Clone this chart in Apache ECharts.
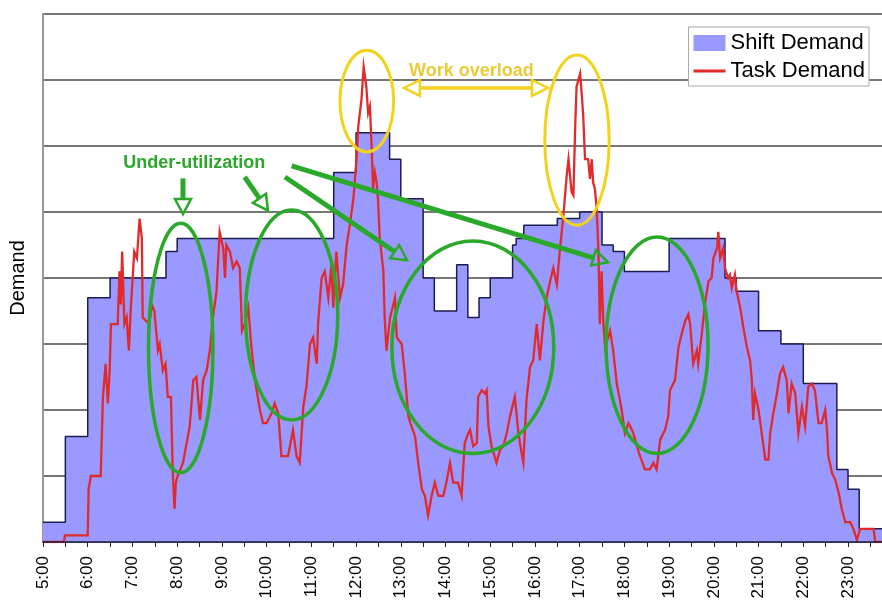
<!DOCTYPE html>
<html>
<head>
    <meta charset="utf-8" />
    <title>Shift Demand vs Task Demand</title>
    <script src="https://cdn.jsdelivr.net/npm/echarts@6.0.0/dist/echarts.min.js"></script>
    <style>
        html, body { margin: 0; padding: 0; background: #fff; }
    </style>
    <script>
        // time of day in hours (13.5 = 13:30)
        let shiftTime = [5, 5.5, 6, 6.5, 7.75, 8, 11.5, 12, 12.75, 13, 13.5, 13.75,
            14.25, 14.5, 14.75, 15, 15.5, 15.58, 15.75, 16.5, 17, 17.5, 17.75, 18,
            19, 20.25, 20.5, 21, 21.5, 22, 22.75, 23, 23.25, 23.76];
        let shiftValue = [0.3, 1.6, 3.7, 4.0, 4.4, 4.6, 5.6, 6.2, 5.8, 5.2, 4.0, 3.5,
            4.2, 3.4, 3.7, 4.0, 4.5, 4.6, 4.8, 4.9, 5.0, 4.5, 4.4, 4.1,
            4.6, 4.0, 3.8, 3.2, 3.0, 2.4, 1.1, 0.8, 0.2, 0.2];

        let taskTime = [
            5.00, 5.47, 5.49, 6.00, 6.02, 6.07, 6.29, 6.34, 6.40, 6.45, 6.49,
            6.52, 6.67, 6.71, 6.74, 6.77, 6.82, 6.87, 6.92, 6.96, 7.04,
            7.10, 7.16, 7.21, 7.23, 7.38, 7.43, 7.49, 7.57, 7.61, 7.68,
            7.74, 7.79, 7.86, 7.90, 7.94, 7.97, 8.01, 8.13, 8.17, 8.28,
            8.36, 8.43, 8.51, 8.58, 8.66, 8.73, 8.80, 8.88, 8.95, 9.03,
            9.07, 9.10, 9.18, 9.25, 9.33, 9.40, 9.45, 9.51, 9.59, 9.66,
            9.74, 9.85, 9.92, 10.00, 10.11, 10.18, 10.26, 10.33, 10.48, 10.59,
            10.67, 10.74, 10.82, 10.89, 10.97, 11.04, 11.12, 11.15, 11.23, 11.30,
            11.38, 11.45, 11.49, 11.56, 11.64, 11.71, 11.79, 11.86, 11.94, 12.01,
            12.05, 12.12, 12.17, 12.23, 12.27, 12.31, 12.35, 12.38, 12.42, 12.46,
            12.49, 12.53, 12.61, 12.64, 12.68, 12.76, 12.87, 12.91, 13.02, 13.09,
            13.17, 13.24, 13.32, 13.39, 13.47, 13.54, 13.61, 13.69, 13.76, 13.84,
            13.95, 14.02, 14.10, 14.17, 14.28, 14.36, 14.43, 14.51, 14.55, 14.62,
            14.70, 14.73, 14.81, 14.88, 14.92, 14.96, 15.03, 15.14, 15.22, 15.29,
            15.37, 15.44, 15.55, 15.63, 15.70, 15.74, 15.81, 15.89, 15.96, 16.04,
            16.11, 16.19, 16.26, 16.34, 16.41, 16.49, 16.56, 16.63, 16.71, 16.75,
            16.82, 16.86, 16.90, 16.93, 17.01, 17.05, 17.08, 17.12, 17.19, 17.23,
            17.27, 17.30, 17.34, 17.38, 17.42, 17.45, 17.49, 17.53, 17.57, 17.68,
            17.75, 17.83, 17.90, 17.94, 18.01, 18.09, 18.13, 18.20, 18.28, 18.35,
            18.46, 18.57, 18.65, 18.72, 18.80, 18.91, 18.98, 19.02, 19.13, 19.21,
            19.28, 19.36, 19.43, 19.47, 19.54, 19.62, 19.65, 19.73, 19.80, 19.88,
            19.95, 19.99, 20.07, 20.10, 20.14, 20.21, 20.25, 20.32, 20.36, 20.40,
            20.47, 20.51, 20.59, 20.66, 20.74, 20.81, 20.85, 20.88, 20.92, 21.00,
            21.07, 21.15, 21.22, 21.26, 21.33, 21.41, 21.48, 21.55, 21.63, 21.67,
            21.74, 21.82, 21.89, 21.97, 22.04, 22.11, 22.19, 22.26, 22.34, 22.41,
            22.49, 22.53, 22.56, 22.64, 22.71, 22.79, 22.86, 22.94, 23.05, 23.12,
            23.20, 23.27, 23.57, 23.61, 23.76
        ];
        let taskValue = [
            0, 0, 0.1, 0.1, 0.8, 1.0, 1.0, 2.2, 2.7, 2.1, 2.6,
            3.3, 3.3, 4.1, 3.6, 4.4, 3.3, 3.4, 2.9, 3.5, 4.4,
            4.3, 4.9, 4.6, 3.4, 3.3, 3.6, 3.5, 2.9, 3.0, 2.6,
            2.7, 2.2, 2.2, 1.1, 0.5, 0.9, 1.0, 1.2, 1.2, 1.75,
            2.45, 2.5, 1.85, 2.45, 2.6, 2.9, 3.4, 3.8, 4.7, 4.45,
            4.0, 4.5, 4.4, 4.15, 4.25, 4.15, 3.2, 3.3, 3.55, 2.95,
            2.45, 2.0, 1.8, 1.8, 1.95, 2.1, 1.95, 1.3, 1.3, 1.7,
            1.3, 1.2, 2.05, 2.35, 3.0, 3.1, 2.7, 3.3, 4.0, 4.1,
            3.7, 4.2, 3.55, 4.4, 3.7, 3.9, 4.5, 4.8, 5.2, 5.8,
            6.3, 6.7, 7.2, 6.9, 6.5, 6.6, 5.95, 5.35, 5.6, 5.45,
            5.2, 4.6, 4.1, 3.4, 2.9, 3.4, 3.7, 3.1, 3.0, 2.55,
            1.9, 1.75, 1.6, 1.2, 0.8, 0.7, 0.4, 0.7, 0.9, 0.7,
            0.7, 0.9, 1.2, 0.9, 0.9, 0.7, 1.5, 1.65, 1.7, 1.45,
            1.5, 2.2, 2.3, 2.25, 2.3, 1.75, 1.45, 1.2, 1.4, 1.45,
            1.65, 1.9, 2.2, 1.65, 1.35, 1.2, 2.15, 2.65, 2.75, 3.3,
            2.75, 3.35, 3.7, 3.95, 4.15, 3.9, 4.45, 4.9, 5.55, 5.8,
            5.3, 5.25, 6.3, 6.9, 7.1, 6.75, 6.45, 5.8, 5.8, 5.5,
            5.8, 5.45, 5.35, 5.05, 4.4, 3.3, 4.1, 3.3, 2.95, 3.2,
            2.9, 2.4, 2.15, 2.0, 1.65, 1.8, 1.75, 1.65, 1.45, 1.3,
            1.1, 1.1, 1.2, 1.1, 1.55, 1.7, 1.9, 2.3, 2.45, 2.95,
            3.15, 3.35, 3.45, 3.3, 2.7, 2.9, 2.7, 3.15, 3.6, 3.95,
            4.0, 4.3, 4.45, 4.7, 4.3, 4.45, 4.15, 4.0, 4.05, 3.85,
            4.05, 3.8, 3.55, 3.25, 2.95, 2.75, 2.45, 1.85, 2.25, 2.0,
            1.65, 1.25, 1.25, 1.65, 1.95, 2.25, 2.55, 2.65, 2.45, 1.95,
            2.4, 2.25, 1.65, 2.05, 1.75, 2.35, 2.4, 2.3, 1.8, 1.8,
            2.0, 1.7, 1.3, 1.05, 0.95, 0.75, 0.5, 0.3, 0.3, 0.2,
            0.03, 0.2, 0.2, 0, 0
        ];

        let xMin = 5, xMax = 23.76;

        // annotations, in axis units: [hour, demand]
        let underEllipses = [
            { c: [8.08, 2.94], r: [0.72, 1.89] },
            { c: [10.56, 3.44], r: [1.03, 1.59] },
            { c: [14.61, 2.95], r: [1.81, 1.61] },
            { c: [18.73, 2.98], r: [1.14, 1.64] }
        ];
        let overEllipses = [
            { c: [12.24, 6.68], r: [0.60, 0.77] },
            { c: [16.94, 6.09], r: [0.72, 1.29] }
        ];
        let underArrows = [
            [[8.13, 5.51], [8.13, 4.97]],
            [[9.51, 5.53], [10.03, 5.02]],
            [[10.41, 5.53], [13.14, 4.27]],
            [[10.56, 5.70], [17.63, 4.24]]
        ];
        let overArrow = [[13.07, 6.88], [16.29, 6.88]];

        let green = '#2AA82A';
        let yellow = '#F3D21C';

        function zip(a, b) {
            let out = [];
            for (let i = 0; i < a.length; i++) out.push([a[i], b[i]]);
            return out;
        }

        function arrow(p0, p1, color, width, headLen, headHalf, both) {
            let dx = p1[0] - p0[0], dy = p1[1] - p0[1];
            let len = Math.sqrt(dx * dx + dy * dy);
            let ux = dx / len, uy = dy / len, nx = -uy, ny = ux;
            let head = function (tip, sx, sy) {
                let bx = tip[0] - sx * headLen, by = tip[1] - sy * headLen;
                return {
                    type: 'polygon', silent: true, z: 100,
                    shape: { points: [[tip[0], tip[1]], [bx + nx * headHalf, by + ny * headHalf], [bx - nx * headHalf, by - ny * headHalf]] },
                    style: { fill: 'none', stroke: color, lineWidth: 2.5 }
                };
            };
            let s = both ? [p0[0] + ux * headLen, p0[1] + uy * headLen] : p0;
            let e = [p1[0] - ux * headLen, p1[1] - uy * headLen];
            let parts = [{
                type: 'line', silent: true, z: 100,
                shape: { x1: s[0], y1: s[1], x2: e[0], y2: e[1] },
                style: { stroke: color, lineWidth: width }
            }, head(p1, ux, uy)];
            if (both) parts.push(head(p0, -ux, -uy));
            return parts;
        }

        function drawNotes(chart) {
            let px = function (p) { return chart.convertToPixel({ gridIndex: 0 }, p); };
            let els = [];
            let ell = function (item, color, w) {
                let c = px(item.c);
                let ex = px([item.c[0] + item.r[0], item.c[1]]);
                let ey = px([item.c[0], item.c[1] + item.r[1]]);
                els.push({
                    type: 'ellipse', silent: true, z: 100,
                    shape: { cx: c[0], cy: c[1], rx: Math.abs(ex[0] - c[0]), ry: Math.abs(c[1] - ey[1]) },
                    style: { fill: 'none', stroke: color, lineWidth: w }
                });
            };
            underEllipses.forEach(function (e) { ell(e, green, 3.5); });
            overEllipses.forEach(function (e) { ell(e, yellow, 3); });
            underArrows.forEach(function (a) {
                els = els.concat(arrow(px(a[0]), px(a[1]), green, 5, 15, 8, false));
            });
            els = els.concat(arrow(px(overArrow[0]), px(overArrow[1]), yellow, 3.5, 16, 8, true));

            let t1 = px([8.38, 5.74]);
            els.push({
                type: 'text', silent: true, z: 100, x: t1[0], y: t1[1],
                style: { text: 'Under-utilization', fill: green, font: 'bold 18px "Liberation Sans", Arial, sans-serif', align: 'center', verticalAlign: 'middle' }
            });
            let t2 = px([14.58, 7.14]);
            els.push({
                type: 'text', silent: true, z: 100, x: t2[0], y: t2[1],
                style: { text: 'Work overload', fill: '#EACB34', font: 'bold 18px "Liberation Sans", Arial, sans-serif', align: 'center', verticalAlign: 'middle' }
            });
            chart.setOption({ graphic: els });
        }

        function InitChart() {
            let chart = echarts.init(document.getElementById('divChart'));
            let option = {
                backgroundColor: '#fff',
                animation: false,
                textStyle: { fontFamily: '"Liberation Sans", Arial, sans-serif' },
                grid: { left: 43, right: 0, top: 14, bottom: 59, outerBoundsMode: 'none' },
                legend: {
                    orient: 'vertical',
                    right: 13,
                    top: 27,
                    padding: [5, 4, 4, 5],
                    itemGap: 6,
                    itemWidth: 32,
                    itemHeight: 16,
                    borderColor: '#aaa',
                    borderWidth: 1,
                    backgroundColor: '#fff',
                    selectedMode: false,
                    textStyle: { fontSize: 22, color: '#000' },
                    data: [
                        { name: 'Shift Demand', icon: 'rect', itemStyle: { color: '#9999FF', borderWidth: 0 } },
                        { name: 'Task Demand', icon: 'path://M0,0L32,0L32,3L0,3Z', itemStyle: { color: '#E32A2A', borderWidth: 0 } }
                    ]
                },
                xAxis: {
                    type: 'value',
                    min: xMin,
                    max: xMax,
                    interval: 0.5,
                    z: 5,
                    axisLine: { lineStyle: { color: '#1C1C40', width: 1.5 } },
                    axisTick: { length: 5, lineStyle: { color: '#1C1C40' } },
                    axisLabel: {
                        rotate: 90,
                        margin: 14,
                        fontSize: 17,
                        color: '#000',
                        formatter: function (v) { return v % 1 === 0 ? v + ':00' : ''; }
                    },
                    splitLine: { show: false }
                },
                yAxis: {
                    type: 'value',
                    min: 0,
                    max: 8,
                    interval: 1,
                    name: 'Demand',
                    nameLocation: 'middle',
                    nameGap: 15,
                    nameTextStyle: { fontSize: 20, color: '#000' },
                    axisLine: { show: true, lineStyle: { color: '#999', width: 2 } },
                    axisTick: { show: false },
                    axisLabel: { show: false },
                    splitLine: { lineStyle: { color: '#4a4a4a', width: 1.5 } }
                },
                series: [{
                    name: 'Shift Demand',
                    type: 'line',
                    step: 'end',
                    symbol: 'none',
                    data: zip(shiftTime, shiftValue),
                    itemStyle: { color: '#9999FF' },
                    lineStyle: { color: '#1C1C50', width: 1.5 },
                    areaStyle: { color: '#9999FF', opacity: 1 }
                }, {
                    name: 'Task Demand',
                    type: 'line',
                    symbol: 'none',
                    data: zip(taskTime, taskValue),
                    itemStyle: { color: '#E32A2A' },
                    lineStyle: { color: '#E32A2A', width: 2.3, join: 'miter' }
                }]
            };
            chart.setOption(option);
            drawNotes(chart);
        }

        window.onload = InitChart;
    </script>
</head>
<body>
    <div id="divChart" style="width:882px;height:601px;"></div>
</body>
</html>
